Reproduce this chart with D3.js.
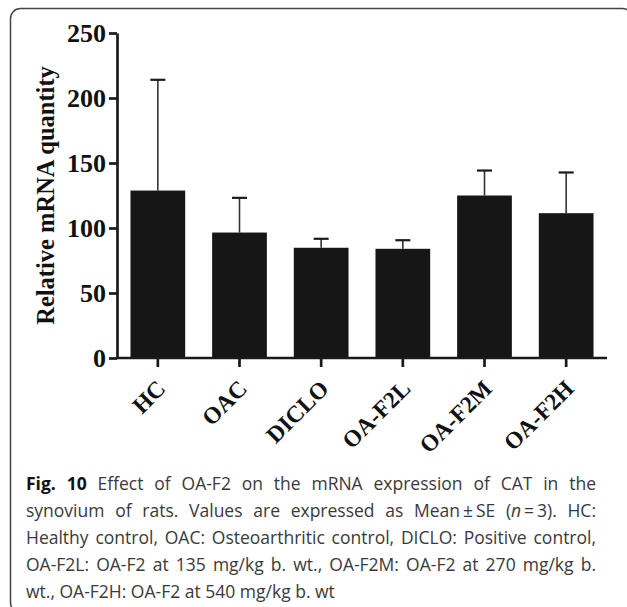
<!DOCTYPE html>
<html>
<head>
<meta charset="utf-8">
<script src="https://cdn.jsdelivr.net/npm/d3@7"></script>
<style>
  html, body { margin: 0; padding: 0; background: #fff; }
  #wrap { position: relative; width: 627px; height: 607px; overflow: hidden; }
  svg { position: absolute; left: 0; top: 0; }
  #caption { position: absolute; left: 26px; top: 470px; width: 570px;
    font-family: "Open Sans", sans-serif; font-size: 17.5px; line-height: 27px; color: #3a3a3a; }
  #caption .ln { text-align: justify; text-align-last: justify; white-space: nowrap; }
  #caption .last { text-align: left; text-align-last: left; }
  #caption b { color: #111; }
</style>
</head>
<body>
<div id="wrap">
  <svg id="chart" width="627" height="607"></svg>
  <div id="caption"></div>
</div>
<script>
// ---- data ----
const categories = ["HC", "OAC", "DICLO", "OA-F2L", "OA-F2M", "OA-F2H"];
const means = [128.8, 96.5, 84.8, 84.0, 125.0, 111.4];
const errors = [85.2, 26.7, 6.9, 6.6, 19.2, 31.3];
const yTicks = [0, 50, 100, 150, 200, 250];
const yLabel = "Relative mRNA quantity";
const captionLines = [
  "<b>Fig. 10</b> Effect of OA-F2 on the mRNA expression of CAT in the",
  "synovium of rats. Values are expressed as Mean\u2009\u00b1\u2009SE (<i>n</i>\u2009=\u20093). HC:",
  "Healthy control, OAC: Osteoarthritic control, DICLO: Positive control,",
  "OA-F2L: OA-F2 at 135 mg/kg b. wt., OA-F2M: OA-F2 at 270 mg/kg b.",
  "wt., OA-F2H: OA-F2 at 540 mg/kg b. wt"
];

// ---- layout ----
const svg = d3.select("#chart");
const pL = 117, pR = 607, pT = 33, pB = 358;
const serif = "'Liberation Serif', 'Times New Roman', serif";

// frame
svg.append("rect")
  .attr("x", 10.5).attr("y", 8.5)
  .attr("width", 622).attr("height", 604)
  .attr("rx", 10).attr("ry", 10)
  .attr("fill", "none").attr("stroke", "#444").attr("stroke-width", 1.5);

const x = d3.scaleBand().domain(categories).range([pL, pR])
  .paddingInner(0.33).paddingOuter(0.165);
const y = d3.scaleLinear().domain([0, 250]).range([pB, pT]);

const g = svg.append("g");

// error bars (upper only)
const eb = g.selectAll(".eb").data(categories).enter().append("g");
eb.append("line")
  .attr("x1", d => x(d) + x.bandwidth() / 2).attr("x2", d => x(d) + x.bandwidth() / 2)
  .attr("y1", (d, i) => y(means[i])).attr("y2", (d, i) => y(means[i] + errors[i]))
  .attr("stroke", "#333").attr("stroke-width", 1.6);
eb.append("line")
  .attr("x1", d => x(d) + x.bandwidth() / 2 - 7.5).attr("x2", d => x(d) + x.bandwidth() / 2 + 7.5)
  .attr("y1", (d, i) => y(means[i] + errors[i])).attr("y2", (d, i) => y(means[i] + errors[i]))
  .attr("stroke", "#1a1a1a").attr("stroke-width", 2.2);

// bars
g.selectAll(".bar").data(categories).enter().append("rect")
  .attr("x", d => x(d)).attr("width", x.bandwidth())
  .attr("y", (d, i) => y(means[i])).attr("height", (d, i) => y(0) - y(means[i]))
  .attr("fill", "#161616");

// y axis
const yAxis = g.append("g").attr("transform", `translate(${pL},0)`)
  .call(d3.axisLeft(y).tickValues(yTicks).tickSize(8).tickSizeOuter(0).tickPadding(3));
yAxis.select(".domain").attr("stroke", "#1a1a1a").attr("stroke-width", 2.7);
yAxis.selectAll(".tick line").attr("stroke", "#1a1a1a").attr("stroke-width", 2.7);
yAxis.selectAll(".tick text")
  .attr("font-family", serif).attr("font-weight", "bold").attr("font-size", 26)
  .attr("fill", "#111").attr("dy", "0.34em");

// x axis
const xAxis = g.append("g").attr("transform", `translate(0,${pB})`)
  .call(d3.axisBottom(x).tickSize(9).tickSizeOuter(0));
xAxis.select(".domain").attr("stroke", "#1a1a1a").attr("stroke-width", 2.7)
  .attr("d", `M${pL - 1},0H${pR}`);
xAxis.selectAll(".tick line").attr("stroke", "#1a1a1a").attr("stroke-width", 2.7);
xAxis.selectAll(".tick text")
  .attr("font-family", serif).attr("font-weight", "bold").attr("font-size", 23.5)
  .attr("fill", "#111").attr("text-anchor", "end")
  .attr("y", 0).attr("dy", 0)
  .attr("transform", "translate(9,32) rotate(-45)");

// y label
svg.append("text")
  .attr("transform", `translate(45,${(pT + pB) / 2}) rotate(-90)`)
  .attr("text-anchor", "middle").attr("dominant-baseline", "central")
  .attr("font-family", serif).attr("font-weight", "bold").attr("font-size", 24.5)
  .attr("fill", "#111")
  .text(yLabel);

// caption
const cap = d3.select("#caption");
captionLines.forEach((l, i) => {
  cap.append("div").attr("class", "ln" + (i === captionLines.length - 1 ? " last" : "")).html(l);
});
</script>
</body>
</html>
